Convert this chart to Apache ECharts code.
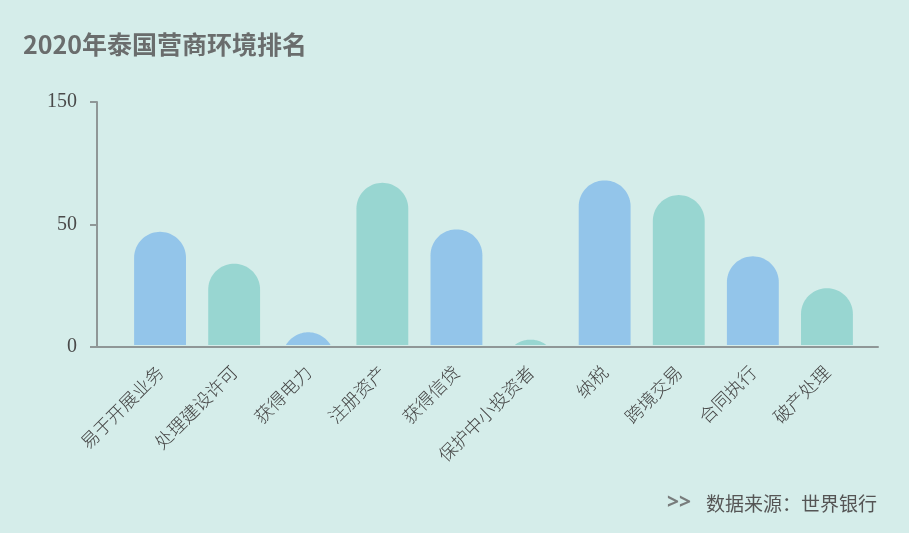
<!DOCTYPE html>
<html>
<head>
<meta charset="utf-8">
<title>2020年泰国营商环境排名</title>
<script src="https://cdn.jsdelivr.net/npm/echarts@6/dist/echarts.min.js"></script>
<style>
  html, body { margin: 0; padding: 0; background: #d5edea; }
  #main { width: 909px; height: 533px; }
</style>
</head>
<body>
<div id="main"></div>
<script>
var categories = ['易于开展业务', '处理建设许可', '获得电力', '注册资产', '获得信贷', '保护中小投资者', '纳税', '跨境交易', '合同执行', '破产处理'];
var rankings = [47, 34, 6, 67, 48, 3, 68, 62, 37, 24];
var yTickValues = [0, 50, 100];
var yTickLabels = ['0', '50', '150'];

var barColors = ['#93c5ea', '#98d6d1'];
var axisColor = '#8f9797';

var chart = echarts.init(document.getElementById('main'));

// bar with a round cap; short bars become a dome cut off at the baseline
function renderDome(params, api) {
  var idx = api.value(0);
  var val = api.value(1);
  var base = api.coord([idx, 0]);
  var top = api.coord([idx, val]);
  var w = api.size([1, 0])[0] * 0.7;
  var r = w / 2;
  var cx = base[0];
  var by = base[1] - 2;
  var cy = top[1] + r;
  var dy = Math.max(0, cy - by);
  var t0 = dy >= r ? Math.PI / 2 : Math.asin(dy / r);
  var pts = [];
  if (dy === 0) pts.push([cx - r, by]);
  var n = 40;
  for (var k = 0; k <= n; k++) {
    var t = Math.PI - t0 - (Math.PI - 2 * t0) * k / n;
    pts.push([cx + r * Math.cos(t), cy - r * Math.sin(t)]);
  }
  if (dy === 0) pts.push([cx + r, by]);
  return {
    type: 'polygon',
    shape: { points: pts },
    style: { fill: barColors[idx % 2] }
  };
}

var option = {
  backgroundColor: '#d5edea',
  title: [
    {
      text: '2020年泰国营商环境排名',
      left: 18,
      top: 27,
      textStyle: {
        fontFamily: 'Noto Sans CJK SC',
        fontSize: 25,
        fontWeight: 'bold',
        color: '#6a6d6d'
      }
    },
    {
      text: '{a|>>}   {b|数据来源：世界银行}',
      right: 27,
      bottom: 14,
      textStyle: {
        rich: {
          a: { fontFamily: 'Noto Sans', fontSize: 21, fontWeight: 'bold', color: '#787c7c' },
          b: { fontFamily: 'Noto Sans CJK SC', fontSize: 19, fontWeight: 'normal', color: '#555' }
        }
      }
    }
  ],
  grid: [
    { left: 123, right: 45, top: 102, bottom: 186 },
    { left: 97, right: 31, top: 102, bottom: 186 }
  ],
  xAxis: [
    {
      type: 'category',
      gridIndex: 0,
      data: categories,
      axisLine: { show: false },
      axisTick: { show: false },
      axisLabel: {
        interval: 0,
        rotate: 45,
        margin: 22,
        fontFamily: 'Noto Sans CJK SC',
        fontSize: 18,
        fontWeight: 300,
        color: '#444'
      }
    },
    {
      type: 'value',
      gridIndex: 1,
      axisLine: { show: true, lineStyle: { color: axisColor, width: 2 } },
      axisTick: { show: false },
      axisLabel: { show: false },
      splitLine: { show: false }
    }
  ],
  yAxis: [
    {
      type: 'value',
      gridIndex: 0,
      min: 0,
      max: 100,
      interval: 50,
      show: false
    },
    {
      type: 'value',
      gridIndex: 1,
      min: 0,
      max: 100,
      interval: 50,
      axisLine: { show: true, lineStyle: { color: axisColor, width: 2 } },
      axisTick: { show: true, length: 7, lineStyle: { color: axisColor, width: 2 } },
      axisLabel: {
        margin: 20,
        fontFamily: 'Liberation Serif',
        fontSize: 20,
        color: '#4a4a4a',
        formatter: function (v) {
          var i = yTickValues.indexOf(v);
          return i < 0 ? '' : yTickLabels[i];
        }
      },
      splitLine: { show: false }
    }
  ],
  series: [
    {
      type: 'custom',
      xAxisIndex: 0,
      yAxisIndex: 0,
      renderItem: renderDome,
      encode: { x: 0, y: 1 },
      data: rankings.map(function (v, i) { return [i, v]; })
    }
  ]
};

chart.setOption(option);
window.addEventListener('resize', function () {
  chart.resize();
});
</script>
</body>
</html>
